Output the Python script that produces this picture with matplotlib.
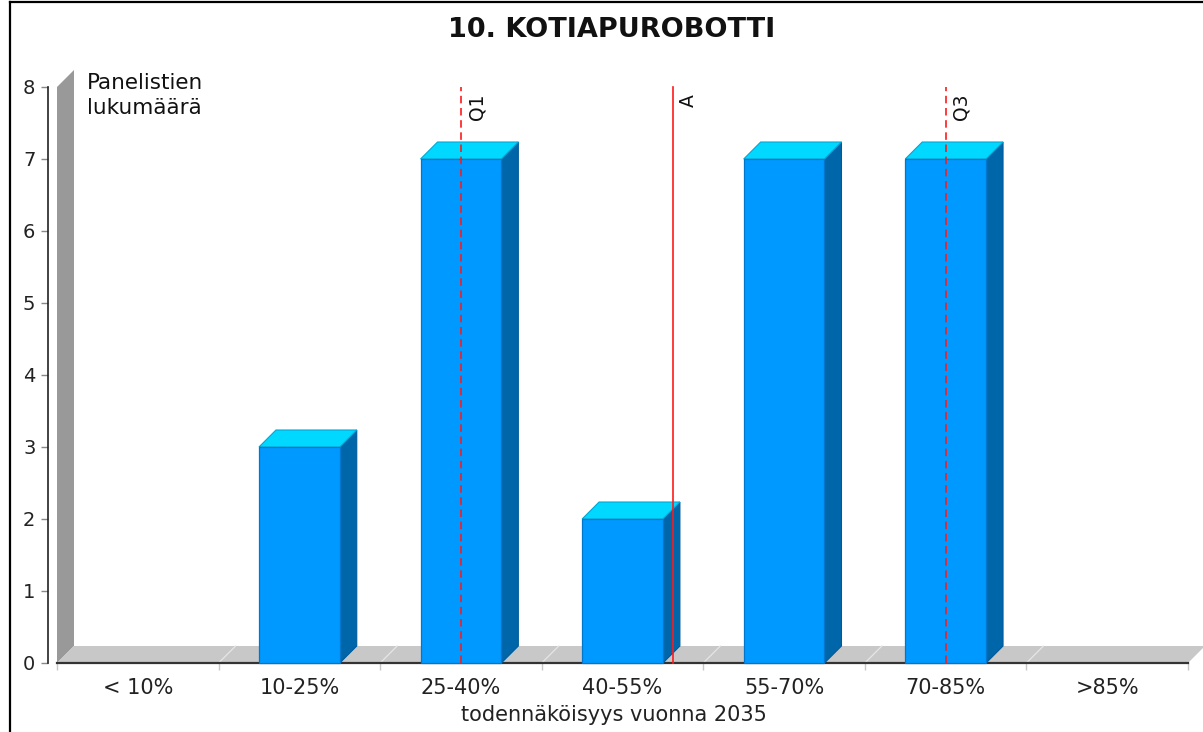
import matplotlib
matplotlib.use("Agg")
import matplotlib.pyplot as plt
from matplotlib.patches import Polygon, Rectangle
from matplotlib.lines import Line2D

categories = ['< 10%', '10-25%', '25-40%', '40-55%', '55-70%', '70-85%', '>85%']
counts = [0, 3, 7, 2, 7, 7, 0]
marker_labels = ['Q1', 'A', 'Q3']
marker_pos = [2.0, 3.31, 5.0]

W, H = 1203, 732
fig = plt.figure(figsize=(W / 100, H / 100), dpi=100)
fig.patch.set_facecolor('white')

# plot area in pixels (front plane)
x0, x1, ytop, ybot = 57, 1188, 87, 663
ax = fig.add_axes([x0 / W, (H - ybot) / H, (x1 - x0) / W, (ybot - ytop) / H])
ax.set_xlim(-0.5, len(categories) - 0.5)
ax.set_ylim(0, 8)
ax.patch.set_alpha(0)

# 3d depth offset, 17 px each way, in data units
DX = 17 * len(categories) / (x1 - x0)
DY = 17 * 8 / (ybot - ytop)
lo, hi = -0.5, len(categories) - 0.5

# back wall and floor
ax.add_patch(Polygon([(lo, 0), (lo, 8), (lo + DX, 8 + DY), (lo + DX, DY)],
                     closed=True, fc='#999999', ec='none', clip_on=False, zorder=1))
ax.add_patch(Polygon([(lo, 0), (hi, 0), (hi + DX, DY), (lo + DX, DY)],
                     closed=True, fc='#c8c8c8', ec='none', clip_on=False, zorder=1))
for b in range(1, len(categories)):
    ax.plot([b - 0.5, b - 0.5 + DX], [0, DY], color='#e6e6e6', lw=0.9,
            clip_on=False, zorder=1.5)
ax.plot([lo, hi], [0, 0], color='#333333', lw=1.6, clip_on=False, zorder=2)

# 3d bars
hw = 0.25
for i, v in enumerate(counts):
    if v <= 0:
        continue
    ax.add_patch(Polygon([(i + hw, 0), (i + hw + DX, DY), (i + hw + DX, v + DY), (i + hw, v)],
                         closed=True, fc='#0066aa', ec='#005a99', lw=0.8,
                         clip_on=False, zorder=3))
    ax.add_patch(Polygon([(i - hw, v), (i + hw, v), (i + hw + DX, v + DY), (i - hw + DX, v + DY)],
                         closed=True, fc='#00d8ff', ec='#00a8d8', lw=0.8,
                         clip_on=False, zorder=3))
    ax.add_patch(Rectangle((i - hw, 0), 2 * hw, v, fc='#0099ff', ec='#0077cc',
                           lw=0.9, clip_on=False, zorder=4))

# quartile and mean markers
for lab, xp in zip(marker_labels, marker_pos):
    ls = '-' if lab == 'A' else (0, (4.5, 2.8))
    ax.plot([xp, xp], [0, 8], color='#ff1a1a', lw=1.2, linestyle=ls,
            zorder=5, clip_on=False)
    ax.annotate(lab, xy=(xp, 8), xytext=(4.5, -5), textcoords='offset points',
                rotation=90, ha='left', va='top', fontsize=13.5, color='#111111')

# axes styling
for s in ['top', 'right', 'bottom']:
    ax.spines[s].set_visible(False)
ax.spines['left'].set_position(('outward', 9 * 0.72))
ax.spines['left'].set_color('#222222')
ax.spines['left'].set_linewidth(1.2)
ax.set_yticks(range(0, 9))
ax.tick_params(axis='y', length=5, width=1, color='#888888', labelsize=14,
               labelcolor='#222222', pad=4)
ax.set_xticks(range(len(categories)))
ax.set_xticklabels(categories)
ax.set_xticks([b - 0.5 for b in range(len(categories) + 1)], minor=True)
ax.tick_params(axis='x', which='major', length=0, labelsize=15,
               labelcolor='#222222', pad=10.5)
ax.tick_params(axis='x', which='minor', length=5, width=1, color='#c8c8c8')

# texts
fig.text(612 / W, 1 - 30 / H, '10. KOTIAPUROBOTTI', ha='center', va='center',
         fontsize=19.5, fontweight='bold', color='#111111')
fig.text(614 / W, 1 - 715 / H, 'todennäköisyys vuonna 2035', ha='center',
         va='center', fontsize=15, color='#222222')
fig.text(87 / W, 1 - 73 / H, 'Panelistien\nlukumäärä', ha='left', va='top',
         fontsize=15.5, linespacing=1.3, color='#111111')

# frame
fig.add_artist(Line2D([10 / W, 10 / W], [0, 1 - 2 / H], color='black', lw=1.6))
fig.add_artist(Line2D([10 / W, 1], [1 - 2 / H, 1 - 2 / H], color='black', lw=1.6))

fig.savefig('out.png', dpi=100)
